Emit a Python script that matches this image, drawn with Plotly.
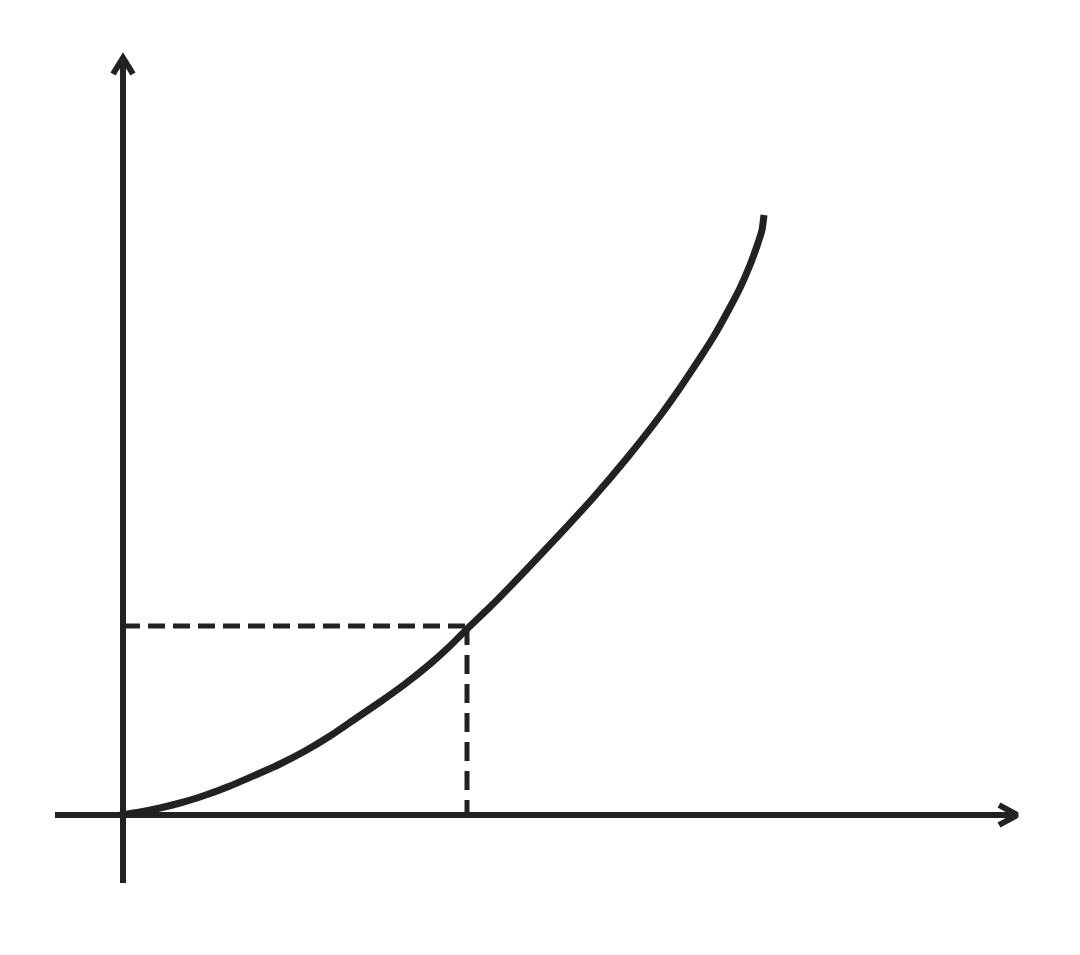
import plotly.graph_objects as go

# coordinates measured from the origin of the sketch (1 unit = 1 px)
curve_x = [-3, 17, 37, 57, 77, 107, 137, 157, 182, 207, 232, 257, 282, 307, 327, 344,
           370, 404, 437, 470, 504, 537, 557, 577, 591, 605, 617, 627, 634, 639, 641]
curve_y = [0, 3, 7, 12, 18, 29, 42, 51, 64, 79, 96, 113, 131, 151, 169, 186,
           211, 246, 281, 317, 357, 399, 427, 457, 479, 504, 527, 550, 569, 585, 600]

marker_x = 344
marker_y = 189

x_axis = [-68, 894]
y_axis = [-68, 757]
ink = "#222222"

fig = go.Figure()

# axes
fig.add_trace(go.Scatter(x=x_axis, y=[0, 0], mode="lines",
                         line=dict(color=ink, width=6), hoverinfo="skip"))
fig.add_trace(go.Scatter(x=[0, 0], y=y_axis, mode="lines",
                         line=dict(color=ink, width=6), hoverinfo="skip"))

# arrow heads
fig.add_trace(go.Scatter(x=[x_axis[1] - 18, x_axis[1], x_axis[1] - 18], y=[10, 0, -10],
                         mode="lines", line=dict(color=ink, width=6), hoverinfo="skip"))
fig.add_trace(go.Scatter(x=[-10, 0, 10], y=[y_axis[1] - 16, y_axis[1], y_axis[1] - 16],
                         mode="lines", line=dict(color=ink, width=6), hoverinfo="skip"))

# dashed guides
fig.add_trace(go.Scatter(x=[0, marker_x], y=[marker_y, marker_y], mode="lines",
                         line=dict(color=ink, width=5, dash="17px,8px"), hoverinfo="skip"))
fig.add_trace(go.Scatter(x=[marker_x, marker_x], y=[marker_y, 0], mode="lines",
                         line=dict(color=ink, width=5, dash="19px,10px"), hoverinfo="skip"))

# curve
fig.add_trace(go.Scatter(x=curve_x, y=curve_y, mode="lines",
                         line=dict(color=ink, width=7, shape="spline", smoothing=0.5),
                         hoverinfo="skip"))

fig.update_layout(
    width=1080, height=955,
    margin=dict(l=0, r=0, t=0, b=0),
    paper_bgcolor="white", plot_bgcolor="white",
    showlegend=False,
    xaxis=dict(range=[-115, 965], visible=False, fixedrange=True),
    yaxis=dict(range=[-148, 807], visible=False, fixedrange=True),
)

fig.write_html("out.html")
